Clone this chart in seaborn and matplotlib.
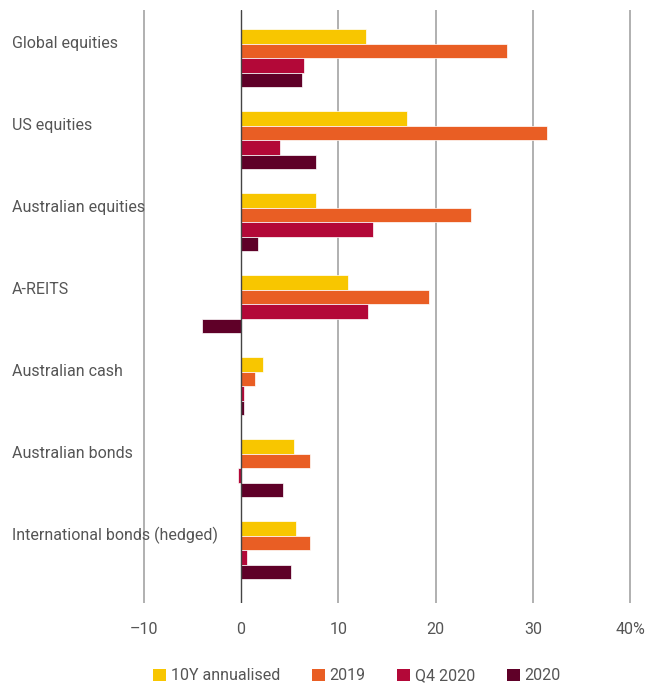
import matplotlib
matplotlib.use("Agg")
import matplotlib.pyplot as plt
import seaborn as sns
import pandas as pd
from matplotlib.patches import Patch

categories = ["Global equities", "US equities", "Australian equities", "A-REITS",
              "Australian cash", "Australian bonds", "International bonds (hedged)"]
series = ["10Y annualised", "2019", "Q4 2020", "2020"]
ten_year = [12.8, 17.1, 7.7, 11.0, 2.3, 5.4, 5.7]
y2019 = [27.3, 31.5, 23.6, 19.3, 1.4, 7.1, 7.1]
q4_2020 = [6.5, 4.0, 13.6, 13.1, 0.3, -0.3, 0.6]
y2020 = [6.3, 7.7, 1.7, -4.0, 0.3, 4.3, 5.1]
tick_values = [-10, 0, 10, 20, 30, 40]
tick_labels = ["\u201310", "0", "10", "20", "30", "40%"]
colors = ["#F8C600", "#E95E24", "#B30838", "#5F0028"]

rows = []
for s, vals in zip(series, [ten_year, y2019, q4_2020, y2020]):
    for c, v in zip(categories, vals):
        rows.append({"category": c, "series": s, "value": v})
df = pd.DataFrame(rows)

sns.set_style("white")
plt.rcParams["font.family"] = ["Roboto", "DejaVu Sans"]

W, H = 657, 683
fig = plt.figure(figsize=(W / 100, H / 100), dpi=100)
L, R, T, B = 12, 640, 10, 603
ax = fig.add_axes([L / W, 1 - B / H, (R - L) / W, (B - T) / H])

sns.barplot(data=df, y="category", x="value", hue="series", order=categories,
            hue_order=series, palette=colors, saturation=1, orient="h", width=0.706,
            edgecolor="white", linewidth=0.5, legend=False, ax=ax, zorder=3)

px = 9.73
ax.set_xlim((L - 241) / px, (R - 241) / px)
ax.set_ylim(6.64, -0.585)

for x in tick_values:
    if x == 0:
        ax.axvline(0, color="#444444", lw=1.0, zorder=4)
    else:
        ax.axvline(x, color="#aaaaaa", lw=1.3, zorder=1)

ax.set_xticks(tick_values)
ax.set_xticklabels(tick_labels)
ax.tick_params(axis="x", length=0, pad=14, labelsize=11.5, labelcolor="#555555")
ax.set_yticks([])
ax.set_xlabel("")
ax.set_ylabel("")
for sp in ax.spines.values():
    sp.set_visible(False)

for i, c in enumerate(categories):
    ax.text((L - 241) / px, i - 0.18, c, ha="left", va="center", fontsize=11.5,
            color="#555555", zorder=5)

handles = [Patch(facecolor=col, edgecolor="none", label=s) for col, s in zip(colors, series)]
fig.legend(handles=handles, loc="center", bbox_to_anchor=(357 / W, 1 - 676 / H),
           ncol=4, frameon=False, fontsize=11.5, handlelength=0.8, handleheight=0.8,
           handletextpad=0.3, columnspacing=2.0, labelcolor="#555555")

fig.savefig("out.png", dpi=100)
